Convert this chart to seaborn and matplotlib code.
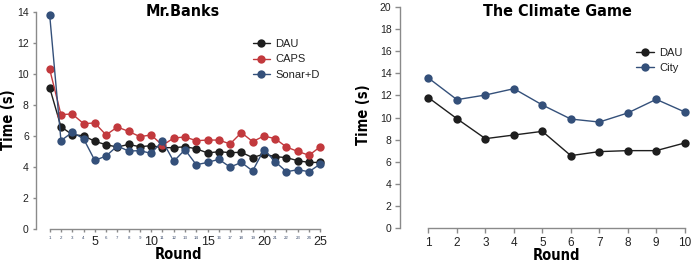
import matplotlib
matplotlib.use("Agg")
import matplotlib.pyplot as plt
from matplotlib import font_manager as fm
import seaborn as sns
import pandas as pd
import numpy as np

sns.set_style("white")
plt.rcParams['font.family'] = ['Liberation Sans', 'DejaVu Sans']

# ---- data: Mr.Banks ----
banks_rounds = list(range(1, 26))
banks_dau = [9.10, 6.59, 6.08, 6.01, 5.65, 5.43, 5.28, 5.45, 5.30, 5.37, 5.24, 5.24, 5.30,
             5.17, 4.90, 4.98, 4.92, 4.94, 4.60, 4.83, 4.66, 4.60, 4.40, 4.29, 4.29]
banks_caps = [10.29, 7.37, 7.41, 6.79, 6.83, 6.06, 6.57, 6.29, 5.95, 6.06, 5.39, 5.86, 5.93,
              5.69, 5.73, 5.73, 5.48, 6.21, 5.63, 5.99, 5.82, 5.28, 5.00, 4.75, 5.30]
banks_sonar = [13.79, 5.69, 6.23, 5.82, 4.42, 4.70, 5.35, 5.02, 5.05, 4.87, 5.67, 4.36, 5.11,
               4.14, 4.29, 4.49, 3.99, 4.29, 3.74, 5.11, 4.34, 3.69, 3.82, 3.69, 4.19]

# ---- data: The Climate Game ----
climate_rounds = list(range(1, 11))
climate_dau = [11.79, 9.89, 8.09, 8.42, 8.75, 6.56, 6.92, 7.01, 7.01, 7.70]
climate_city = [13.56, 11.61, 12.03, 12.60, 11.13, 9.86, 9.59, 10.41, 11.64, 10.50]

BLACK = "#1e1e1e"
RED = "#c2393d"
BLUE = "#34507a"
AXC = "#8a8a8a"
TXT = "#222222"

# condensed bold font for titles
COND_FAMILY = 'DejaVu Sans'
COND_STRETCH = 'condensed'
try:
    fm.findfont(fm.FontProperties(family='Liberation Sans Narrow', weight='bold'),
                fallback_to_default=False)
    COND_FAMILY = 'Liberation Sans Narrow'
    COND_STRETCH = 'normal'
except Exception:
    pass

W, H = 691, 265
fig = plt.figure(figsize=(W / 100, H / 100), dpi=100)


def px_axes(left, right, top, bottom):
    return fig.add_axes([left / W, 1 - bottom / H, (right - left) / W, (bottom - top) / H])


def ftext(x, y, s, size, rot=0):
    fig.text(x / W, 1 - y / H, s, ha='center', va='center', rotation=rot,
             fontsize=size, fontweight='bold', family=COND_FAMILY,
             fontstretch=COND_STRETCH, color='black')


def style_axes(ax, xmin, xmax, ymax, ylen, xlen):
    for s in ['top', 'right']:
        ax.spines[s].set_visible(False)
    for s in ['left', 'bottom']:
        ax.spines[s].set_color(AXC)
        ax.spines[s].set_linewidth(1.0)
    ax.spines['bottom'].set_bounds(xmin, xmax)
    ax.spines['left'].set_bounds(0, ymax)
    ax.tick_params(axis='both', colors=AXC, width=1.0, direction='out',
                   labelcolor=TXT, labelsize=7.5, bottom=True, left=True)
    ax.tick_params(axis='y', length=ylen, pad=2.5)
    ax.tick_params(axis='x', length=xlen, pad=2.5)
    ax.set_xlabel('')
    ax.set_ylabel('')


def draw(ax, rounds, series, names, colors):
    frames = []
    for vals, nm in zip(series, names):
        frames.append(pd.DataFrame({'Round': rounds, 'Time': vals, 'Series': nm}))
    df = pd.concat(frames, ignore_index=True)
    sns.lineplot(data=df, x='Round', y='Time', hue='Series', hue_order=names,
                 palette=dict(zip(names, colors)), marker='o', markersize=6.0,
                 markeredgewidth=0, linewidth=1.0, ax=ax, clip_on=False, legend=True)


# ---- left chart ----
ax1 = px_axes(35.7, 320.3, 11.7, 229)
draw(ax1, banks_rounds, [banks_dau, banks_caps, banks_sonar],
     ['DAU', 'CAPS', 'Sonar+D'], [BLACK, RED, BLUE])
ax1.set_xlim(-0.24, 25)
ax1.set_ylim(0, 14)
style_axes(ax1, 1, 25, 14, 2.5, 2.5)
ax1.set_yticks(range(0, 15, 2))
ax1.set_xticks(banks_rounds)
ax1.set_xticklabels([str(r) for r in banks_rounds])
for r, lab in zip(banks_rounds, ax1.get_xticklabels()):
    if r % 5 == 0:
        lab.set_fontsize(9)
    else:
        lab.set_fontsize(3.2)
        lab.set_color('#3a4a6a')
leg = ax1.legend(loc='upper left', bbox_to_anchor=(0.762, 0.875), frameon=False, fontsize=8,
                 handlelength=1.6, handletextpad=0.45, labelspacing=0.5, borderaxespad=0,
                 borderpad=0)
for t in leg.get_texts():
    t.set_color(TXT)
ftext(183, 11.5, 'Mr.Banks', 11.5)
ftext(179, 254.5, 'Round', 10.5)
ftext(9, 120, 'Time (s)', 10.5, rot=90)

# ---- right chart ----
ax2 = px_axes(400, 684.7, 6.7, 228.3)
draw(ax2, climate_rounds, [climate_dau, climate_city], ['DAU', 'City'], [BLACK, BLUE])
ax2.set_xlim(0, 10)
ax2.set_ylim(0, 20)
style_axes(ax2, 1, 10, 20, 3.6, 3.6)
ax2.set_yticks(range(0, 21, 2))
ax2.set_xticks(climate_rounds)
ax2.tick_params(axis='x', labelsize=8.5, pad=2.5)
leg2 = ax2.legend(loc='upper left', bbox_to_anchor=(0.83, 0.815), frameon=False, fontsize=8,
                  handlelength=1.6, handletextpad=0.45, labelspacing=0.5, borderaxespad=0,
                  borderpad=0)
for t in leg2.get_texts():
    t.set_color(TXT)
ftext(557, 12, 'The Climate Game', 11.5)
ftext(557, 255, 'Round', 10.5)
ftext(363, 115, 'Time (s)', 10.5, rot=90)

fig.savefig('out.png', dpi=100)
